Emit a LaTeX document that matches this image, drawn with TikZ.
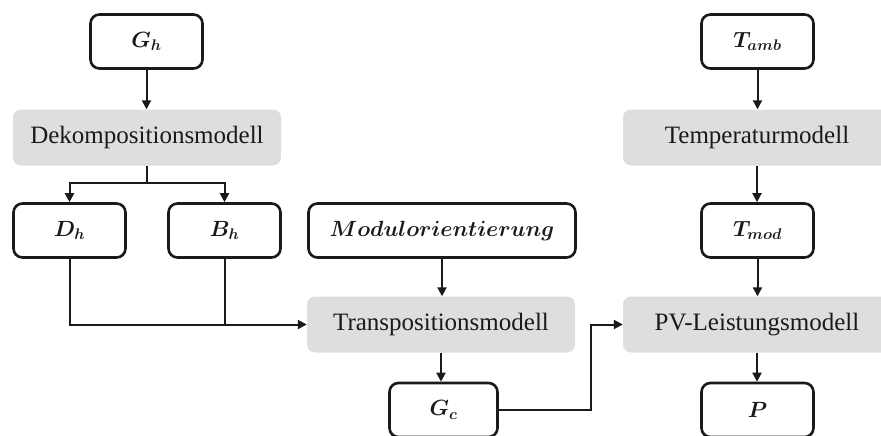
\RequirePackage{fix-cm}
\documentclass[tikz,border=0pt]{standalone}
\usepackage{amsmath}
\usepackage{bm}
\usepackage{fontspec}
\setmainfont{Liberation Serif}
\usetikzlibrary{arrows.meta}
\definecolor{modelgrey}{RGB}{221,222,223}
\definecolor{ink}{RGB}{26,26,26}
\tikzset{
  txt/.style={font=\fontsize{25}{30}\selectfont, text=ink, inner sep=0pt},
  inbox/.style={txt, draw=ink, line width=2.6pt, rounded corners=9pt,
    minimum width=112pt, minimum height=54pt},
  modelbox/.style={txt, fill=modelgrey, rounded corners=8pt,
    minimum width=268pt, minimum height=56pt},
  mathlbl/.style={font=\fontsize{22}{26}\selectfont},
  conn/.style={draw=ink, line width=2pt},
  arr/.style={conn, -{Triangle[width=9pt,length=9pt]}}
}
\begin{document}
\begin{tikzpicture}[x=1pt,y=-1pt]
  \useasboundingbox (0,0) rectangle (881,436);
  \clip (0,0) rectangle (881,436);

  % left branch: irradiance decomposition
  \node[inbox, mathlbl] (Gh) at (146.5,41.5) {$\bm{G_h}$};
  \node[modelbox] (dek) at (147,137.5) {Dekompositionsmodell};
  \node[inbox, mathlbl] (Dh) at (69.5,230.5) {$\bm{D_h}$};
  \node[inbox, mathlbl] (Bh) at (224.5,230.5) {$\bm{B_h}$};

  % middle branch: transposition onto the module plane
  \node[inbox, mathlbl, minimum width=267pt] (mod) at (442,230.5) {$\bm{Modulorientierung}$};
  \node[modelbox] (trans) at (441,324.5) {Transpositionsmodell};
  \node[inbox, mathlbl, minimum width=108pt] (Gc) at (443.5,410) {$\bm{G_c}$};

  % right branch: temperature and power
  \node[inbox, mathlbl] (Tamb) at (757.5,41.5) {$\bm{T_{amb}}$};
  \node[modelbox] (temp) at (757,137.5) {Temperaturmodell};
  \node[inbox, mathlbl] (Tmod) at (757.5,230.5) {$\bm{T_{mod}}$};
  \node[modelbox] (pv) at (757,324.5) {PV-Leistungsmodell};
  \node[inbox, mathlbl] (P) at (757.5,410) {$\bm{P}$};

  % connectors
  \draw[arr] (Gh.south) -- (Gh.south |- dek.north);
  \draw[arr] (dek.south) -- ++(0,17) -| (Dh.north);
  \draw[arr] (dek.south) -- ++(0,17) -| (Bh.north);

  \draw[arr] (Dh.south) |- (trans.west);
  \draw[conn] (Bh.south) -- (Bh.south |- trans.west);
  \draw[arr] (mod.south) -- (mod.south |- trans.north);
  \draw[arr] (trans.south) -- (trans.south |- Gc.north);
  \draw[arr] (Gc.east) -- ++(92,0) |- (pv.west);

  \draw[arr] (Tamb.south) -- (Tamb.south |- temp.north);
  \draw[arr] (temp.south) -- (temp.south |- Tmod.north);
  \draw[arr] (Tmod.south) -- (Tmod.south |- pv.north);
  \draw[arr] (pv.south) -- (pv.south |- P.north);
\end{tikzpicture}
\end{document}
